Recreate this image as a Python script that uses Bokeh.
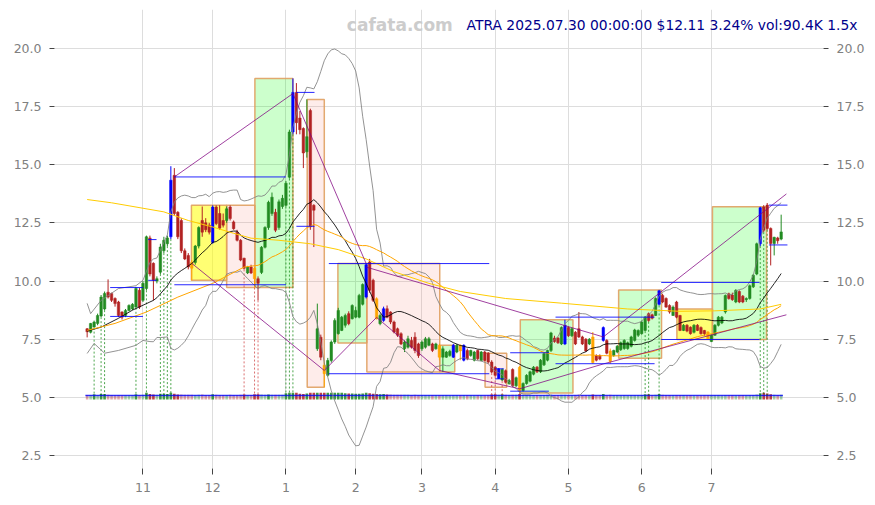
import numpy as np
import pandas as pd
from bokeh.plotting import figure
from bokeh.models import Range1d, LinearAxis, FixedTicker, PrintfTickFormatter, Label, Title
from bokeh.embed import file_html
from bokeh.resources import INLINE

# ---------------- data (trading-day index 0 = 2024-10-10 ... 199 = 2025-07-30) -------------
opens = [7.95, 7.80, 8.03, 8.18, 8.50, 8.80, 9.52, 9.47, 9.25, 9.10,
         8.67, 8.52, 8.74, 8.80, 8.88, 9.60, 9.17, 9.68, 11.85, 10.76,
         10.00, 10.38, 11.30, 11.60, 11.90, 14.54, 12.95, 12.60, 11.30, 11.10,
         10.80, 10.80, 11.50, 12.60, 12.50, 12.40, 11.66, 13.18, 12.90, 12.60,
         12.60, 13.18, 12.54, 12.10, 11.75, 10.98, 10.35, 10.60, 10.55, 10.10,
         10.37, 11.45, 12.30, 12.90, 12.95, 12.30, 13.20, 13.25, 14.46, 16.40,
         18.10, 17.00, 16.55, 15.55, 17.32, 13.25, 7.09, 7.59, 6.38, 5.95,
         6.59, 7.38, 7.74, 7.88, 8.10, 8.60, 8.38, 8.45, 8.45, 9.00,
         9.31, 10.82, 10.03, 9.24, 8.17, 8.31, 8.81, 8.67, 8.24, 7.95,
         7.74, 7.09, 7.16, 7.45, 7.59, 7.30, 7.09, 7.16, 7.24, 7.30,
         7.09, 7.24, 6.73, 6.73, 6.80, 6.73, 6.95, 7.24, 6.60, 7.02,
         6.80, 6.60, 7.02, 6.59, 6.95, 6.90, 6.52, 6.30, 5.82, 5.75,
         6.15, 5.59, 6.20, 5.50, 6.30, 5.30, 5.60, 5.70, 6.00, 6.30,
         6.10, 6.40, 6.60, 7.02, 7.55, 7.55, 7.30, 7.30, 8.00, 7.65,
         7.80, 7.95, 7.60, 7.50, 7.30, 7.60, 6.80, 6.80, 7.45, 7.45,
         7.00, 6.80, 6.95, 7.05, 7.10, 7.10, 7.20, 7.45, 7.67, 7.74,
         7.88, 8.60, 8.55, 8.52, 9.00, 9.38, 9.25, 8.95, 8.52, 9.10,
         8.52, 7.88, 8.10, 8.02, 7.80, 8.10, 8.00, 7.88, 7.81, 7.40,
         7.67, 8.10, 8.20, 8.67, 9.45, 9.40, 9.10, 9.55, 9.35, 9.20,
         9.25, 9.75, 10.30, 11.60, 13.18, 13.26, 12.26, 11.61, 11.85, 11.80]
highs = [7.98, 8.20, 8.30, 8.60, 9.40, 9.55, 10.07, 9.50, 9.30, 9.15,
         8.70, 8.80, 9.00, 9.05, 9.75, 9.70, 10.00, 11.95, 11.95, 10.80,
         10.20, 11.60, 11.90, 11.95, 14.93, 14.85, 13.00, 12.70, 11.40, 11.20,
         10.90, 11.55, 12.35, 13.20, 12.70, 12.50, 13.25, 13.25, 13.25, 12.90,
         13.20, 13.25, 12.60, 12.20, 11.80, 11.00, 10.65, 10.70, 10.60, 10.20,
         11.50, 12.35, 13.45, 13.80, 13.10, 13.50, 13.70, 14.30, 16.50, 18.70,
         18.50, 17.30, 16.60, 17.80, 17.40, 13.30, 9.03, 7.70, 6.50, 6.70,
         7.45, 8.40, 8.85, 8.50, 8.60, 8.70, 9.00, 8.90, 9.45, 9.90,
         10.75, 10.95, 10.10, 9.30, 8.60, 8.90, 8.95, 8.70, 8.30, 8.00,
         7.80, 7.45, 7.65, 7.60, 7.80, 7.35, 7.45, 7.60, 7.60, 7.35,
         7.35, 7.30, 7.20, 7.00, 7.05, 7.30, 7.30, 7.28, 7.28, 7.10,
         7.05, 7.00, 7.05, 7.00, 7.00, 6.95, 6.60, 6.35, 6.25, 6.25,
         6.20, 5.80, 6.25, 5.90, 6.35, 5.65, 6.00, 6.15, 6.35, 6.35,
         6.65, 6.92, 7.05, 7.82, 7.65, 7.60, 8.05, 8.34, 8.05, 8.00,
         7.85, 8.67, 7.65, 7.55, 7.55, 7.81, 6.85, 6.85, 8.05, 7.50,
         7.10, 7.05, 7.25, 7.40, 7.50, 7.40, 7.65, 7.95, 7.92, 8.30,
         8.50, 8.65, 8.60, 9.30, 9.62, 9.45, 9.30, 9.00, 8.95, 9.15,
         8.55, 8.15, 8.15, 8.05, 8.15, 8.15, 8.05, 7.90, 7.85, 7.70,
         8.15, 8.50, 8.50, 9.42, 9.50, 9.50, 9.65, 9.60, 9.40, 9.30,
         9.85, 10.30, 11.65, 13.19, 13.26, 13.35, 12.30, 11.90, 11.90, 12.85]
lows = [7.58, 7.75, 8.00, 8.10, 8.45, 8.75, 9.25, 9.10, 8.90, 8.45,
        8.35, 8.45, 8.70, 8.75, 8.85, 8.80, 9.10, 9.60, 10.20, 9.17,
        9.90, 10.30, 11.20, 11.50, 11.80, 12.80, 11.80, 11.20, 10.90, 10.50,
        10.03, 10.70, 11.40, 11.90, 12.10, 12.00, 11.60, 12.40, 12.20, 12.30,
        12.50, 12.60, 12.20, 11.70, 10.85, 10.50, 10.30, 10.30, 9.72, 9.17,
        10.30, 11.40, 12.20, 12.80, 12.10, 12.20, 13.10, 13.20, 14.40, 16.30,
        16.30, 16.30, 14.85, 15.30, 12.20, 11.46, 7.00, 6.60, 5.44, 5.90,
        6.50, 7.30, 7.70, 7.85, 8.00, 8.10, 8.35, 8.40, 8.40, 8.95,
        9.25, 9.50, 9.10, 8.35, 8.10, 8.25, 8.40, 8.15, 7.75, 7.60,
        7.25, 6.95, 7.10, 7.10, 6.90, 6.70, 7.00, 7.10, 7.20, 6.95,
        7.05, 6.60, 6.10, 6.70, 6.75, 6.70, 6.90, 6.60, 6.55, 6.60,
        6.75, 6.55, 6.60, 6.55, 6.55, 6.45, 6.05, 5.90, 5.80, 5.70,
        5.60, 5.55, 5.45, 5.45, 5.20, 5.25, 5.55, 5.65, 5.95, 6.05,
        6.05, 6.35, 6.55, 6.95, 7.35, 7.30, 7.25, 7.25, 7.60, 7.60,
        7.25, 7.55, 7.25, 6.95, 7.25, 6.45, 6.55, 6.60, 7.40, 6.85,
        6.45, 6.75, 6.90, 7.00, 7.05, 7.05, 7.15, 7.40, 7.60, 7.70,
        7.85, 8.25, 8.35, 8.50, 8.95, 9.05, 8.85, 8.60, 8.50, 8.40,
        7.85, 7.85, 7.80, 7.70, 7.75, 7.85, 7.70, 7.65, 7.49, 7.38,
        7.65, 8.05, 8.15, 8.60, 9.20, 9.15, 9.05, 9.05, 9.05, 9.10,
        9.20, 9.70, 10.25, 11.50, 12.10, 12.20, 10.67, 11.10, 11.60, 11.75]
closes = [7.82, 8.18, 8.24, 8.52, 9.31, 9.47, 9.31, 9.17, 9.03, 8.52,
          8.45, 8.74, 8.95, 9.00, 9.68, 8.88, 9.90, 11.90, 10.30, 10.03,
          10.10, 11.46, 11.75, 11.85, 14.33, 12.90, 11.90, 11.30, 10.95, 10.60,
          10.55, 11.50, 12.30, 12.10, 12.20, 12.10, 13.18, 12.47, 12.27, 12.40,
          13.10, 12.68, 12.25, 11.75, 10.90, 10.55, 10.60, 10.35, 10.10, 9.90,
          11.45, 12.30, 13.38, 13.60, 12.18, 13.40, 13.55, 14.20, 16.40, 18.10,
          16.80, 16.50, 15.50, 16.20, 12.33, 13.04, 7.95, 6.73, 6.02, 6.59,
          7.38, 8.31, 8.74, 8.45, 8.52, 8.17, 8.95, 8.74, 9.38, 9.85,
          10.70, 9.60, 9.17, 8.38, 8.52, 8.81, 8.45, 8.24, 7.81, 7.67,
          7.30, 7.38, 7.52, 7.16, 7.02, 6.80, 7.38, 7.52, 7.52, 7.02,
          7.30, 6.73, 7.09, 6.95, 6.98, 7.24, 7.24, 7.00, 7.24, 6.66,
          7.02, 6.95, 6.66, 6.95, 6.59, 6.52, 6.09, 5.95, 6.23, 6.20,
          5.65, 5.73, 5.50, 5.85, 5.30, 5.60, 5.95, 6.10, 6.30, 6.10,
          6.60, 6.88, 7.02, 7.77, 7.40, 7.35, 8.00, 8.10, 7.65, 7.95,
          7.30, 7.60, 7.30, 7.00, 7.50, 6.50, 6.60, 6.65, 8.00, 6.90,
          6.55, 7.02, 7.20, 7.35, 7.45, 7.35, 7.60, 7.90, 7.88, 8.24,
          8.45, 8.30, 8.40, 9.25, 9.58, 9.10, 8.88, 8.67, 8.88, 8.45,
          7.88, 8.10, 7.85, 7.74, 8.10, 7.88, 7.74, 7.74, 7.52, 7.67,
          8.10, 8.45, 8.45, 9.38, 9.25, 9.20, 9.60, 9.10, 9.10, 9.25,
          9.80, 10.25, 11.60, 13.15, 12.18, 12.26, 11.61, 11.88, 11.73, 12.11]
volumes = [60, 55, 150, 70, 180, 160, 90, 60, 50, 55,
           45, 50, 48, 52, 140, 70, 95, 420, 180, 120,
           80, 210, 190, 170, 380, 200, 120, 110, 90, 80,
           85, 70, 90, 110, 75, 60, 140, 80, 70, 60,
           75, 80, 60, 70, 85, 130, 60, 55, 140, 150,
           110, 95, 120, 100, 90, 95, 85, 240, 350, 460,
           300, 200, 180, 220, 900, 600, 2400, 1200, 900, 600,
           500, 450, 400, 300, 250, 220, 230, 200, 210, 220,
           300, 260, 200, 180, 150, 160, 120, 110, 100, 90,
           95, 85, 80, 75, 80, 70, 65, 70, 60, 65,
           60, 75, 70, 55, 50, 70, 55, 60, 65, 60,
           55, 50, 60, 55, 50, 60, 130, 140, 90, 150,
           80, 75, 90, 85, 160, 70, 65, 60, 55, 60,
           70, 75, 80, 110, 70, 60, 90, 100, 75, 60,
           55, 110, 65, 60, 55, 120, 60, 55, 160, 50,
           90, 60, 55, 50, 55, 50, 60, 70, 75, 65,
           150, 140, 70, 90, 180, 80, 65, 60, 55, 60,
           75, 55, 50, 55, 50, 45, 50, 55, 60, 50,
           55, 60, 50, 75, 60, 55, 50, 60, 55, 50,
           60, 75, 110, 240, 300, 220, 150, 90, 70, 90.4]

blue_pivots = [24, 36, 59, 80, 85, 105, 108, 118, 137, 148, 164, 193]
orange_pivots = [30, 48, 68, 83, 101, 107, 124, 145, 150, 178]
green_marks = [2, 4, 5, 14, 17, 21, 22, 23, 24, 57, 58, 59, 160, 161, 164, 193, 194, 195]
red_marks = [45, 48, 49, 116, 117, 119, 124]

month_starts = [16, 36, 57, 77, 96, 117, 138, 159, 179]
month_labels = ["11", "12", "1", "2", "3", "4", "5", "6", "7"]
y_ticks = [2.5, 5.0, 7.5, 10.0, 12.5, 15.0, 17.5, 20.0]

# indicator warm-up values (window needs earlier history)
mid_early_x = [0, 4, 9, 13, 18]
mid_early_y = [7.85, 8.02, 8.40, 8.75, 9.10]
upper_early_x = [0, 1, 4, 9, 14, 16, 18]
upper_early_y = [9.04, 8.60, 9.17, 9.68, 9.80, 10.03, 10.80]
lower_early_x = [0, 2, 5, 9, 14, 16, 18]
lower_early_y = [6.89, 7.32, 6.90, 7.02, 7.24, 7.45, 7.40]
sma50_early_x = [0, 8, 17, 26, 36, 45]
sma50_early_y = [7.88, 8.18, 8.67, 9.31, 9.90, 10.60]
sma200_x = [0, 7, 22, 29, 36, 42, 47, 55, 64, 72, 80, 88, 98, 107, 120, 136, 155, 170, 180, 193, 199]
sma200_y = [13.50, 13.36, 12.97, 12.60, 12.32, 12.05, 11.84, 11.75, 11.60, 11.35, 10.95,
            10.40, 9.90, 9.55, 9.25, 9.05, 8.80, 8.70, 8.72, 8.80, 9.00]

# zones (boxes)
box_left = [29.9, 40.0, 48.1, 63.1, 71.9, 80.2, 101.1, 114.1, 124.2, 152.4, 169.1, 179.3]
box_right = [40.0, 48.1, 59.0, 68.0, 80.2, 101.1, 105.4, 120.3, 139.3, 164.7, 179.3, 194.8]
box_top = [13.25, 13.25, 18.70, 17.80, 10.75, 10.75, 7.24, 6.90, 8.34, 9.62, 8.80, 13.19]
box_bottom = [10.03, 9.72, 9.72, 5.44, 7.34, 6.09, 6.09, 5.44, 5.19, 6.68, 7.49, 7.49]
box_kind = ["yellow", "pink", "green", "pink", "green", "pink", "green", "pink",
            "green", "green", "yellow", "green"]

# zigzag / trend segments
zz_x0 = [25, 59, 30, 68, 83, 80, 101, 124, 148, 148]
zz_y0 = [14.47, 18.05, 10.76, 6.16, 8.44, 10.60, 6.16, 5.37, 7.60, 6.44]
zz_x1 = [59, 80, 68, 83, 101, 148, 124, 148, 200.5, 200.5]
zz_y1 = [18.05, 10.75, 6.16, 8.44, 6.16, 7.60, 5.37, 6.44, 13.74, 8.55]

# horizontal support / resistance segments
hl_x0 = [6.6, 6.6, 17.5, 17.5, 25, 25, 60, 60, 69.3, 69.3, 117, 117, 121.3, 121.3,
         134.3, 134.3, 164.6, 164.6, 195.5, 195.5]
hl_x1 = [16, 16, 19.9, 19.9, 57, 57, 65.2, 65.2, 115.3, 115.3, 119.5, 119.5, 132.4, 132.4,
         162.7, 162.7, 192.8, 192.8, 200.8, 200.8]
hl_y = [9.72, 8.48, 11.78, 10.03, 14.47, 9.84, 18.10, 12.35, 10.75, 6.02, 6.23, 5.80,
        6.92, 5.27, 8.45, 6.45, 9.94, 7.49, 13.26, 11.55]

vol_base = 4.91
vol_line_level = 5.08

title_text = "ATRA 2025.07.30 00:00:00 $12.11 3.24% vol:90.4K 1.5x"
watermark = "cafata.com"

# ---------------- derived ----------------
n = len(closes)
idx = np.arange(n)
o = np.array(opens); h = np.array(highs); l = np.array(lows); c = np.array(closes)
s = pd.Series(closes)
mid = s.rolling(20).mean()
std = s.rolling(20).std(ddof=0)
upper = mid + 2 * std
lower = mid - 2 * std
sma50 = s.rolling(50).mean()

colors = []
for i in range(n):
    if i in blue_pivots:
        colors.append("blue")
    elif i in orange_pivots:
        colors.append("orange")
    elif c[i] >= o[i]:
        colors.append("#228b22")
    else:
        colors.append("#b22222")

# ---------------- figure ----------------
x_lo = -9.36
x_hi = 211.14
p = figure(width=867, height=497, output_backend="svg", toolbar_location=None,
           x_range=Range1d(x_lo, x_hi), y_range=Range1d(1.95, 21.66),
           min_border_left=54, min_border_right=39, min_border_top=9, min_border_bottom=29)
p.outline_line_color = None
p.background_fill_color = "white"
p.border_fill_color = "white"

xt = FixedTicker(ticks=month_starts)
yt = FixedTicker(ticks=y_ticks)
p.xaxis.ticker = xt
p.xaxis.major_label_overrides = {m: lab for m, lab in zip(month_starts, month_labels)}
p.yaxis.ticker = yt
p.yaxis.formatter = PrintfTickFormatter(format="%.1f")
p.xgrid.ticker = xt
p.ygrid.ticker = yt
p.xgrid.grid_line_color = "#dddddd"
p.ygrid.grid_line_color = "#dddddd"

raxis = LinearAxis(ticker=yt, formatter=PrintfTickFormatter(format="%.1f"))
p.add_layout(raxis, "right")

for ax in [p.xaxis[0], p.yaxis[0], raxis]:
    ax.axis_line_color = None
    ax.major_tick_line_color = "#444444"
    ax.major_tick_out = 5
    ax.major_tick_in = 0
    ax.minor_tick_line_color = None
    ax.major_label_text_color = "#808080"
    ax.major_label_text_font = "DejaVu Sans"
    ax.major_label_text_font_size = "12.5px"
    ax.major_label_standoff = 8
p.xaxis.major_tick_out = 6

# boxes
fills = {"green": ("lime", 0.2), "pink": ("salmon", 0.15), "yellow": ("yellow", 0.55)}
for kind in ["green", "pink", "yellow"]:
    sel = [k for k in range(len(box_kind)) if box_kind[k] == kind]
    p.quad(left=[box_left[k] for k in sel], right=[box_right[k] for k in sel],
           top=[box_top[k] for k in sel], bottom=[box_bottom[k] for k in sel],
           fill_color=fills[kind][0], fill_alpha=fills[kind][1],
           line_color="#e0a060", line_width=1.5, line_alpha=0.9)

# volume strip
vol = np.array(volumes, dtype=float)
vol_top = vol_base + 0.17 + 0.12 * np.minimum(vol / 300.0, 1.0)
vol_alpha = np.where(vol >= 120, 0.85, 0.4)
p.vbar(x=idx, bottom=vol_base, top=vol_top, width=0.75,
       fill_color=["#228b22" if c[i] >= o[i] else "#b22222" for i in range(n)],
       fill_alpha=vol_alpha, line_color=None)
p.line([idx[0] - 0.5, idx[-1] + 0.5], [vol_line_level, vol_line_level],
       line_color="blue", line_width=1.5, line_alpha=0.8)

# dotted markers
p.segment(x0=green_marks, x1=green_marks, y0=[l[i] for i in green_marks],
          y1=[vol_line_level] * len(green_marks), line_color="green",
          line_dash="2 2", line_width=1, line_alpha=0.7)
p.segment(x0=red_marks, x1=red_marks, y0=[l[i] for i in red_marks],
          y1=[vol_line_level] * len(red_marks), line_color="#cc3333",
          line_dash="2 2", line_width=1, line_alpha=0.7)

# candles
p.segment(x0=idx, x1=idx, y0=l, y1=h, line_color=colors, line_width=1)
body_top = np.maximum(o, c)
body_bot = np.minimum(o, c)
body_bot = np.where(body_top - body_bot < 0.04, body_top - 0.04, body_bot)
p.vbar(x=idx, top=body_top, bottom=body_bot, width=0.72,
       fill_color=colors, line_color=colors, line_width=0.5)

# indicators
mid_x = mid_early_x + list(range(19, n))
p.line(mid_x, mid_early_y + list(mid[19:]), line_color="black", line_width=1, line_alpha=0.85)
p.line(upper_early_x + list(range(19, n)), upper_early_y + list(upper[19:]),
       line_color="gray", line_width=1, line_alpha=0.85)
p.line(lower_early_x + list(range(19, n)), lower_early_y + list(lower[19:]),
       line_color="gray", line_width=1, line_alpha=0.85)
p.line(sma50_early_x + list(range(49, n)), sma50_early_y + list(sma50[49:]),
       line_color="orange", line_width=1)
p.line(sma200_x, sma200_y, line_color="#ffcc00", line_width=1)

# zigzag lines
p.segment(x0=zz_x0, y0=zz_y0, x1=zz_x1, y1=zz_y1, line_color="purple",
          line_width=1, line_alpha=0.75)

# support / resistance
p.segment(x0=hl_x0, x1=hl_x1, y0=hl_y, y1=hl_y, line_color="blue", line_width=1, line_alpha=0.85)

# texts
p.add_layout(Label(x=89.66, y=20.99, text=watermark, text_align="center",
                   text_baseline="middle", text_font="DejaVu Sans", text_font_style="bold",
                   text_font_size="17px", text_color="#cccccc"))
p.add_layout(Title(text=title_text, align="right", offset=-34, standoff=-47,
                   text_font="DejaVu Sans", text_font_style="normal",
                   text_font_size="13.85px", text_color="#00008b"), "above")

open("out.html", "w").write(file_html(p, INLINE))
